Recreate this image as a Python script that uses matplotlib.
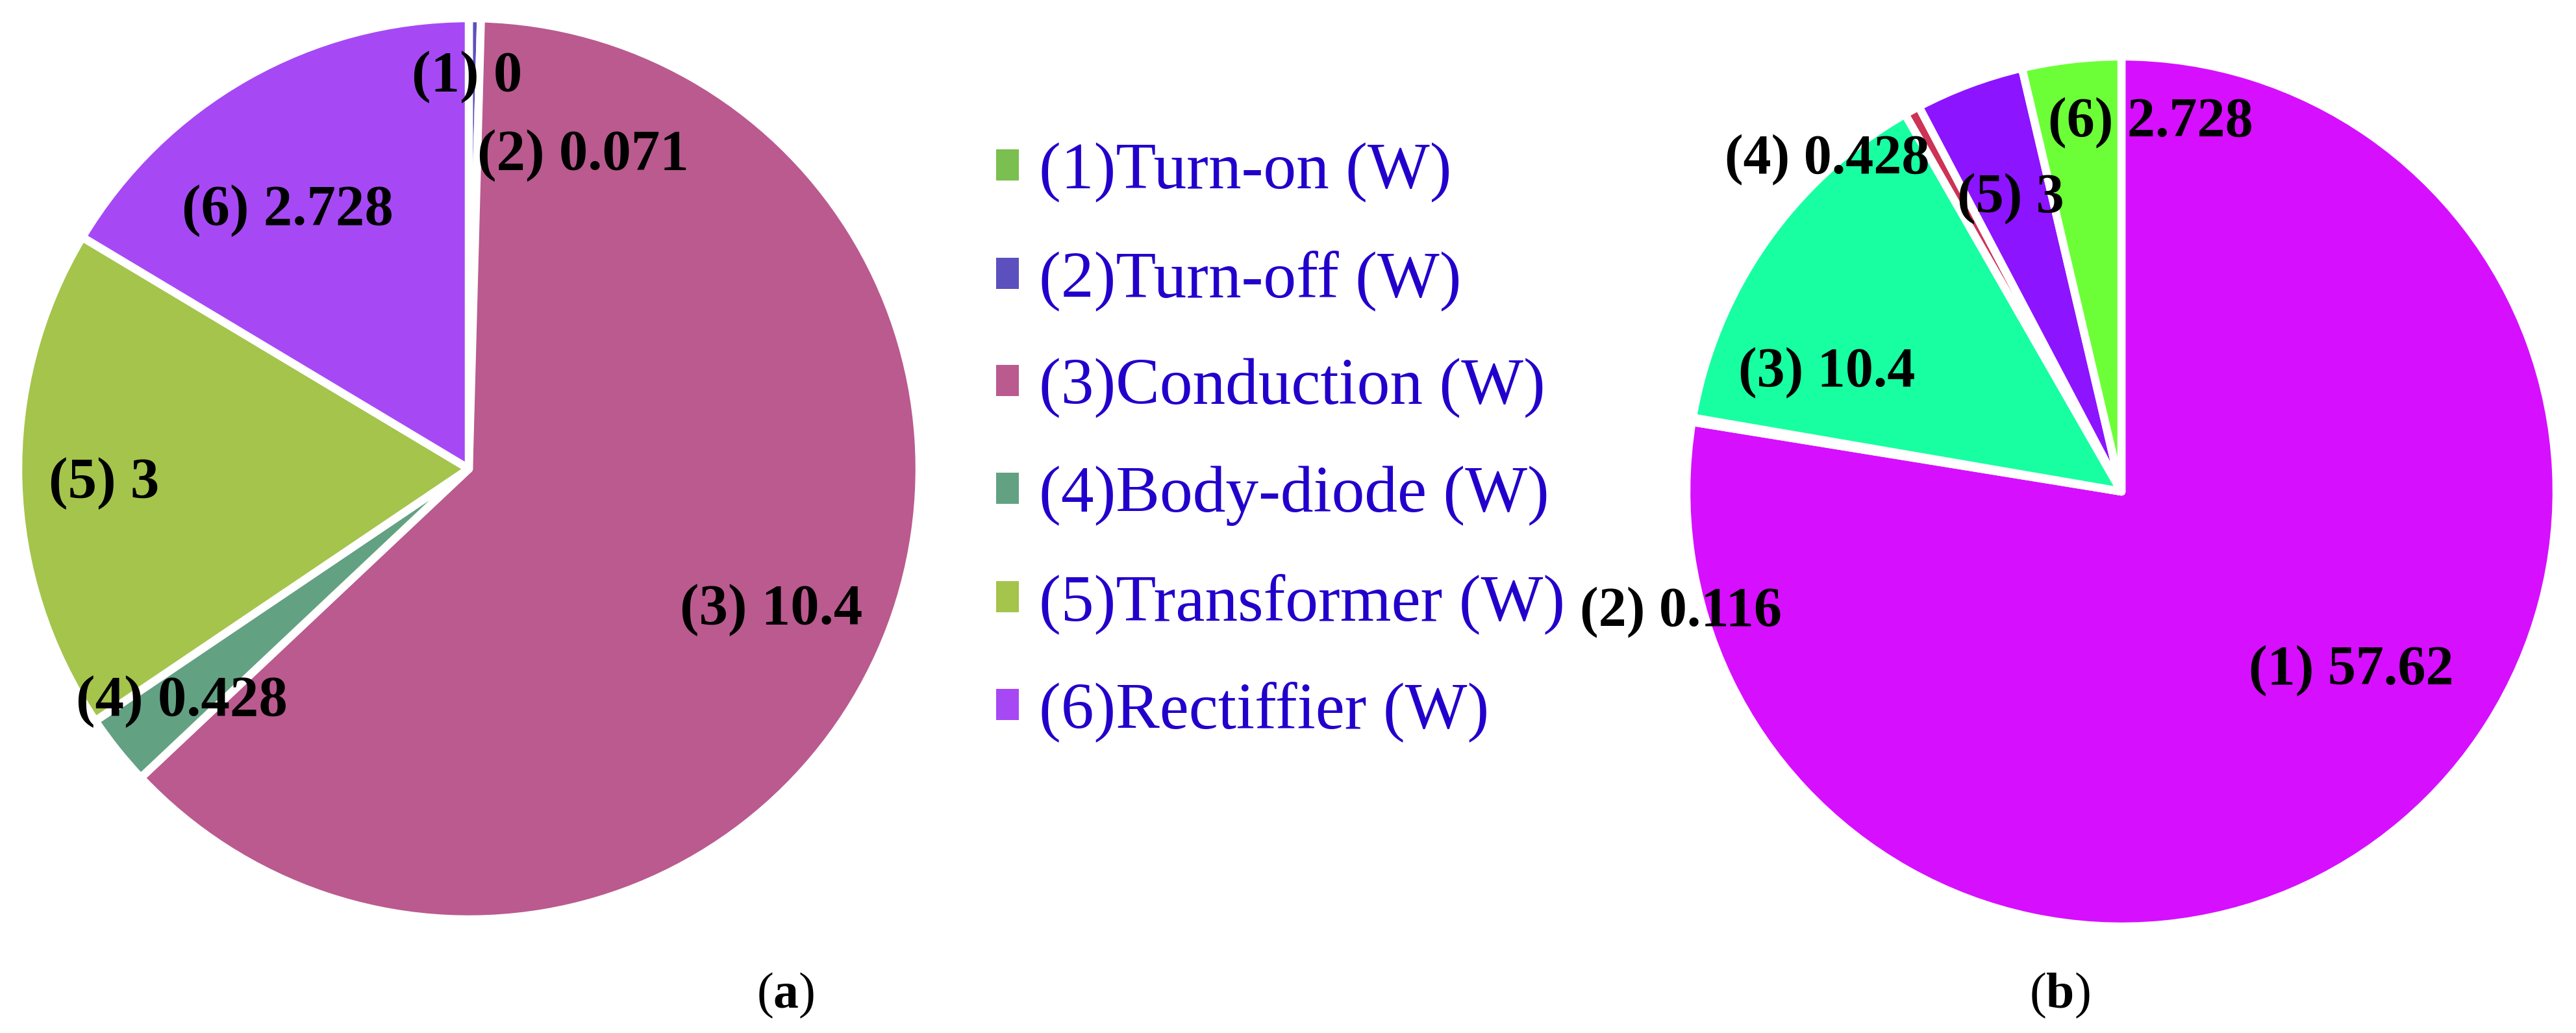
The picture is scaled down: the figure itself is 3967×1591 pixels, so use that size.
import numpy as np
import matplotlib
matplotlib.use("Agg")
import matplotlib.pyplot as plt
from matplotlib.patches import Patch

# data
TAGS = ["(1)", "(2)", "(3)", "(4)", "(5)", "(6)"]
LEGEND_LABELS = ["(1)Turn-on (W)", "(2)Turn-off (W)", "(3)Conduction (W)",
                 "(4)Body-diode (W)", "(5)Transformer (W)", "(6)Rectiffier (W)"]
LOSS_A = [0, 0.071, 10.4, 0.428, 3, 2.728]
LOSS_B = [57.62, 0.116, 10.4, 0.428, 3, 2.728]
VALUE_TEXT_A = ["0", "0.071", "10.4", "0.428", "3", "2.728"]
VALUE_TEXT_B = ["57.62", "0.116", "10.4", "0.428", "3", "2.728"]

COLORS_A = ["#7abf4f", "#5b50bd", "#ba5a8f", "#63a183", "#a4c44c", "#a649f5"]
COLORS_B = ["#d60fff", "#3366ff", "#17ffa1", "#cc3355", "#8c14ff", "#6cff38"]

# label placement: (angle in degrees, radius as fraction of the pie radius)
LABEL_POS_A = [(90.3, 0.87), (70, 0.74), (-25, 0.74), (219, 0.82), (182.3, 0.81), (125, 0.70)]
LABEL_POS_B = [(-38, 0.67), (195.3, 1.05), (158, 0.73), (131.6, 1.02), (110.7, 0.72), (85.5, 0.85)]

W, H, DPI = 3967, 1591, 100

plt.rcParams['font.family'] = ['Liberation Serif', 'DejaVu Serif']
plt.rcParams['mathtext.fontset'] = 'custom'
plt.rcParams['mathtext.rm'] = 'Liberation Serif'
plt.rcParams['mathtext.bf'] = 'Liberation Serif:bold'

fig = plt.figure(figsize=(W / DPI, H / DPI), dpi=DPI)


def pie_axes(cx, cy, rad):
    """axes whose box is the pie's bounding square, given in pixels"""
    return fig.add_axes([(cx - rad) / W, (H - cy - rad) / H, 2 * rad / W, 2 * rad / H])


def draw_pie(axes, values, colors, texts, positions, size):
    """draw one pie with its value labels"""
    axes.pie(values, colors=colors, startangle=90, counterclock=False, radius=1,
             wedgeprops=dict(edgecolor="white", linewidth=9, joinstyle="round"))
    axes.set_aspect("auto")
    axes.set_xlim(-1, 1)
    axes.set_ylim(-1, 1)
    for tag, txt, (ang, rfrac) in zip(TAGS, texts, positions):
        rad = np.deg2rad(ang)
        axes.text(rfrac * np.cos(rad), rfrac * np.sin(rad), f"{tag} {txt}",
                  ha="center", va="center", fontsize=size, fontweight="bold", color="black")


ax_a = pie_axes(722, 722, 694)
draw_pie(ax_a, LOSS_A, COLORS_A, VALUE_TEXT_A, LABEL_POS_A, 64)

ax_b = pie_axes(3267, 757, 670)
draw_pie(ax_b, LOSS_B, COLORS_B, VALUE_TEXT_B, LABEL_POS_B, 62)

handles = [Patch(facecolor=c, edgecolor="none") for c in COLORS_A]
fig.legend(handles, LEGEND_LABELS, loc="upper left", bbox_to_anchor=(1534 / W, 1 - 220 / H),
           frameon=False, fontsize=73, handlelength=0.35, handleheight=0.35,
           handletextpad=0.3, labelspacing=0.72, borderpad=0, borderaxespad=0,
           labelcolor="#2200cc")

fig.text(1210 / W, 1 - 1533 / H, r"$\mathrm{(}\mathbf{a}\mathrm{)}$", ha="center", va="center", fontsize=56)
fig.text(3172 / W, 1 - 1533 / H, r"$\mathrm{(}\mathbf{b}\mathrm{)}$", ha="center", va="center", fontsize=56)

fig.savefig("out.png", dpi=DPI, facecolor="white")
